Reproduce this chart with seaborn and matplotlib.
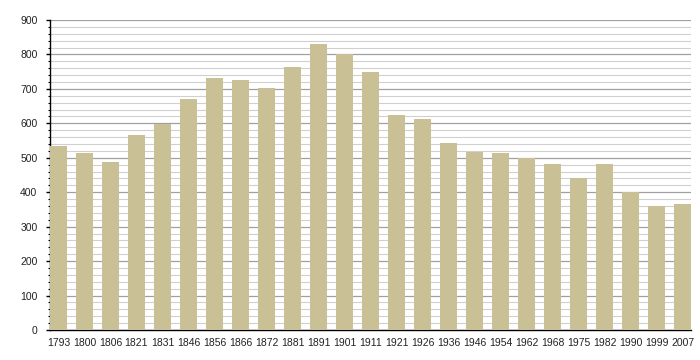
import pandas as pd
import matplotlib.pyplot as plt
import seaborn as sns
from matplotlib.ticker import MultipleLocator

sns.set_style("white")
plt.rcParams['font.family'] = ['Liberation Sans', 'DejaVu Sans']

# Population by census year
years = ['1793', '1800', '1806', '1821', '1831', '1846', '1856', '1866', '1872',
         '1881', '1891', '1901', '1911', '1921', '1926', '1936', '1946', '1954',
         '1962', '1968', '1975', '1982', '1990', '1999', '2007']
population = [535, 514, 488, 566, 597, 671, 732, 726, 703,
              764, 830, 801, 749, 624, 614, 543, 518, 514,
              499, 482, 441, 482, 401, 360, 366]

df = pd.DataFrame({'year': years, 'population': population})

fig = plt.figure(figsize=(7, 3.6), dpi=100)
ax = fig.add_axes([0.0714, 0.0833, 0.9157, 0.861])

bar_w = 0.65
sns.barplot(data=df, x='year', y='population', color='#c9c096', width=bar_w,
            saturation=1, linewidth=0, edgecolor='none', ax=ax, zorder=3)

ax.set_ylim(0, 900)
ax.set_xlim(-bar_w / 2, len(years) - 1 + bar_w / 2)
ax.yaxis.set_major_locator(MultipleLocator(100))
ax.yaxis.set_minor_locator(MultipleLocator(20))
ax.grid(which='major', axis='y', color='#a0a0a0', linewidth=0.9, zorder=0)
ax.grid(which='minor', axis='y', color='#d0d0d0', linewidth=0.8, zorder=0)
ax.set_axisbelow(True)

ax.set_xlabel('')
ax.set_ylabel('')
for side in ['top', 'right']:
    ax.spines[side].set_visible(False)
ax.spines['left'].set_color('black')
ax.spines['bottom'].set_color('black')
ax.spines['left'].set_linewidth(1)
ax.spines['bottom'].set_linewidth(1)

ax.tick_params(axis='y', which='major', left=True, length=3, width=1, labelsize=7.5,
               colors='black', labelcolor='#222222', pad=6)
ax.tick_params(axis='y', which='minor', left=True, length=1.5, width=0.8, colors='black')
ax.tick_params(axis='x', bottom=False, labelsize=7.5, labelcolor='#222222', pad=2.5)

plt.savefig('out.png', dpi=100)
plt.close()
